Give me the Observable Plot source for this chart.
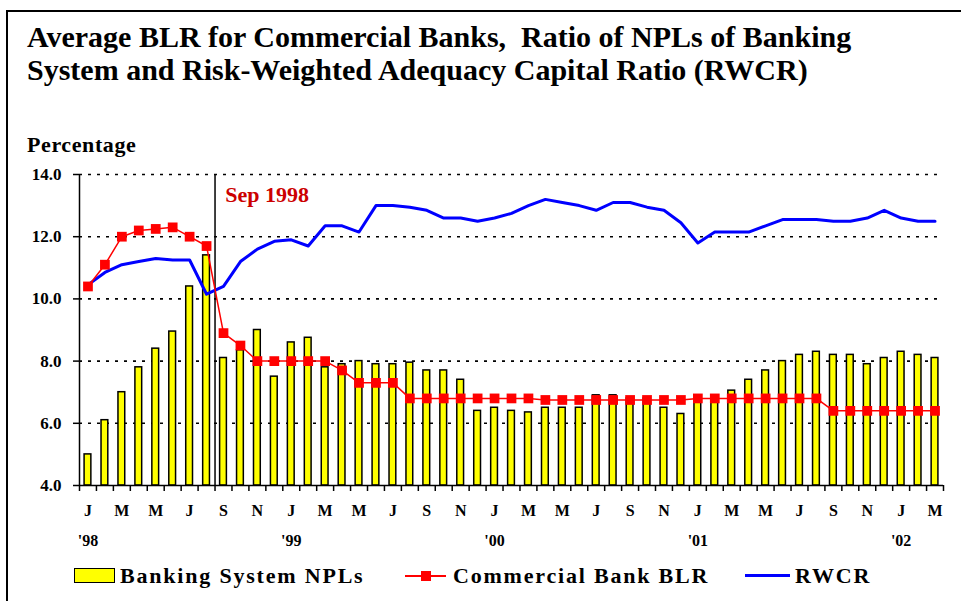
<!DOCTYPE html>
<html><head><meta charset="utf-8">
<script src="https://cdn.jsdelivr.net/npm/d3@7"></script>
<script src="https://cdn.jsdelivr.net/npm/@observablehq/plot@0.6"></script>
<style>
body{margin:0;background:#fff;width:961px;height:601px;overflow:hidden;position:relative;font-family:"Liberation Serif","Times New Roman",serif;font-weight:bold;color:#000}
#frame{position:absolute;left:6px;top:10px;width:1000px;height:700px;border-left:2px solid #000;border-top:2px solid #000}
#title{position:absolute;left:27px;top:20px;font-size:30px;line-height:33px;white-space:nowrap}
#ylabel{position:absolute;left:27px;top:132px;font-size:22px;letter-spacing:0.6px}
#chart{position:absolute;left:0;top:160px}
.lg{position:absolute;top:563px;font-size:22px;line-height:26px;white-space:nowrap;letter-spacing:1.8px}
.sw{position:absolute}
</style></head>
<body>
<div id="frame"></div>
<div id="title">Average BLR for Commercial Banks,&nbsp; Ratio of NPLs of Banking<br>System and Risk-Weighted Adequacy Capital Ratio (RWCR)</div>
<div id="ylabel">Percentage</div>
<div id="chart"></div>
<div id="legend"></div>
<script>
// Months Jan 1998 – Mar 2002
const startMonth = new Date(Date.UTC(1998, 0, 1));
const endMonth = new Date(Date.UTC(2002, 3, 1));
const months = d3.utcMonths(startMonth, endMonth);

const monthLetters = ["J","F","M","A","M","J","J","A","S","O","N","D"];
const yearLabels = ["'98","'99","'00","'01","'02"];
const yTicks = [4, 6, 8, 10, 12, 14];
const seriesNames = ["Banking System NPLs", "Commercial Bank BLR", "RWCR"];
const annotationText = "Sep 1998";

const npl = [
  5.0, 6.1, 7.0, 7.8, 8.4, 8.95, 10.4, 11.4, 8.1, 8.35, 9.0, 7.5,
  8.6, 8.75, 7.8, 7.9, 8.0, 7.9, 7.9, 7.95, 7.7, 7.7, 7.4, 6.4,
  6.5, 6.4, 6.35, 6.5, 6.5, 6.5, 6.9, 6.9, 6.8, 6.8, 6.5, 6.3,
  6.8, 6.85, 7.05, 7.4, 7.7, 8.0, 8.2, 8.3, 8.2, 8.2, 7.9, 8.1,
  8.3, 8.2, 8.1
];
const blr = [
  10.4, 11.1, 12.0, 12.2, 12.25, 12.3, 12.0, 11.7, 8.9, 8.5, 8.0, 8.0,
  8.0, 8.0, 8.0, 7.7, 7.3, 7.3, 7.3, 6.8, 6.8, 6.8, 6.8, 6.8,
  6.8, 6.8, 6.8, 6.75, 6.75, 6.75, 6.75, 6.75, 6.75, 6.75, 6.75, 6.75,
  6.8, 6.8, 6.8, 6.8, 6.8, 6.8, 6.8, 6.8, 6.4, 6.4, 6.4, 6.4,
  6.4, 6.4, 6.4
];
const rwcr = [
  10.45, 10.85, 11.1, 11.2, 11.3, 11.25, 11.25, 10.15, 10.4, 11.2, 11.6, 11.85,
  11.9, 11.7, 12.35, 12.35, 12.15, 13.0, 13.0, 12.95, 12.85, 12.6, 12.6, 12.5,
  12.6, 12.75, 13.0, 13.2, 13.1, 13.0, 12.85, 13.1, 13.1, 12.95, 12.85, 12.45,
  11.8, 12.15, 12.15, 12.15, 12.35, 12.55, 12.55, 12.55, 12.5, 12.5, 12.6, 12.85,
  12.6, 12.5, 12.5
];
const colors = {npl: "#ffff00", blr: "#ff0000", rwcr: "#0000ff", note: "#cc0000"};

const data = months.map((m, i) => ({i, month: m, npl: npl[i], blr: blr[i], rwcr: rwcr[i]}));
const boundaries = d3.range(months.length + 1).map(i => i - 0.5);
const labeled = data.filter(d => d.month.getUTCMonth() % 2 === 0).map(d => d.i);
const januaries = data.filter(d => d.month.getUTCMonth() === 0).map(d => d.i);
const sepIdx = data.findIndex(d => d.month.getUTCFullYear() === 1998 && d.month.getUTCMonth() === 8);
const halfBar = 0.2;

const chart = Plot.plot({
  width: 961,
  height: 400,
  marginLeft: 79,
  marginRight: 18,
  marginTop: 14,
  marginBottom: 75,
  x: {type: "linear", domain: [-0.5, months.length - 0.5], axis: null},
  y: {domain: [4, 14], axis: null},
  style: {fontFamily: "'Liberation Serif','Times New Roman',serif", fontWeight: "bold", fontSize: "16px", color: "#000", background: "transparent", overflow: "visible"},
  marks: [
    Plot.gridY(yTicks.filter(t => t > 4), {stroke: "#000", strokeOpacity: 1, strokeWidth: 1.6, strokeDasharray: "3,6"}),
    Plot.rectY(data, {x1: d => d.i - halfBar, x2: d => d.i + halfBar, y1: yTicks[0], y2: "npl", fill: colors.npl, stroke: "#000", strokeWidth: 1.5}),
    Plot.ruleX([sepIdx - 0.5], {y1: yTicks[0], y2: yTicks[yTicks.length - 1], stroke: "#000", strokeWidth: 1.5}),
    Plot.line(data, {x: "i", y: "rwcr", stroke: colors.rwcr, strokeWidth: 3, curve: "linear"}),
    Plot.line(data, {x: "i", y: "blr", stroke: colors.blr, strokeWidth: 1.5}),
    Plot.dot(data, {x: "i", y: "blr", symbol: "square", r: 5.5, fill: colors.blr, stroke: "none"}),
    Plot.text([annotationText], {x: sepIdx + 0.1, y: 13.35, text: d => d, textAnchor: "start", fill: colors.note, fontSize: 22, fontWeight: "bold"}),
    Plot.ruleX([-0.5], {y1: yTicks[0], y2: yTicks[yTicks.length - 1], stroke: "#000", strokeWidth: 1.5}),
    Plot.ruleY([yTicks[0]], {stroke: "#000", strokeWidth: 1.5}),
    Plot.axisY({ticks: yTicks, tickFormat: d => d.toFixed(1), tickSize: 6, tickPadding: 12, fontSize: 17, strokeWidth: 1.5, label: null}),
    Plot.axisX({ticks: boundaries, tickFormat: () => "", tickSize: 6, strokeWidth: 1.5, label: null}),
    Plot.axisX({ticks: labeled, tickFormat: i => monthLetters[months[i].getUTCMonth()], tickSize: 0, tickPadding: 19, fontSize: 16, label: null}),
    Plot.axisX({ticks: januaries, tickFormat: i => yearLabels[months[i].getUTCFullYear() - 1998], tickSize: 0, tickPadding: 49, fontSize: 16, label: null})
  ]
});
document.getElementById("chart").appendChild(chart);

// Legend
const legend = document.getElementById("legend");
function add(html){ legend.insertAdjacentHTML("beforeend", html); }
add(`<div class="sw" style="left:74px;top:568px;width:39px;height:13px;background:${colors.npl};border:1.5px solid #000"></div>`);
add(`<div class="lg" style="left:120px">${seriesNames[0]}</div>`);
add(`<div class="sw" style="left:405px;top:575px;width:41px;height:1.5px;background:${colors.blr}"></div>`);
add(`<div class="sw" style="left:421px;top:571px;width:10px;height:10px;background:${colors.blr}"></div>`);
add(`<div class="lg" style="left:453px">${seriesNames[1]}</div>`);
add(`<div class="sw" style="left:745px;top:574px;width:45px;height:3px;background:${colors.rwcr}"></div>`);
add(`<div class="lg" style="left:795px">${seriesNames[2]}</div>`);
</script>
</body></html>
